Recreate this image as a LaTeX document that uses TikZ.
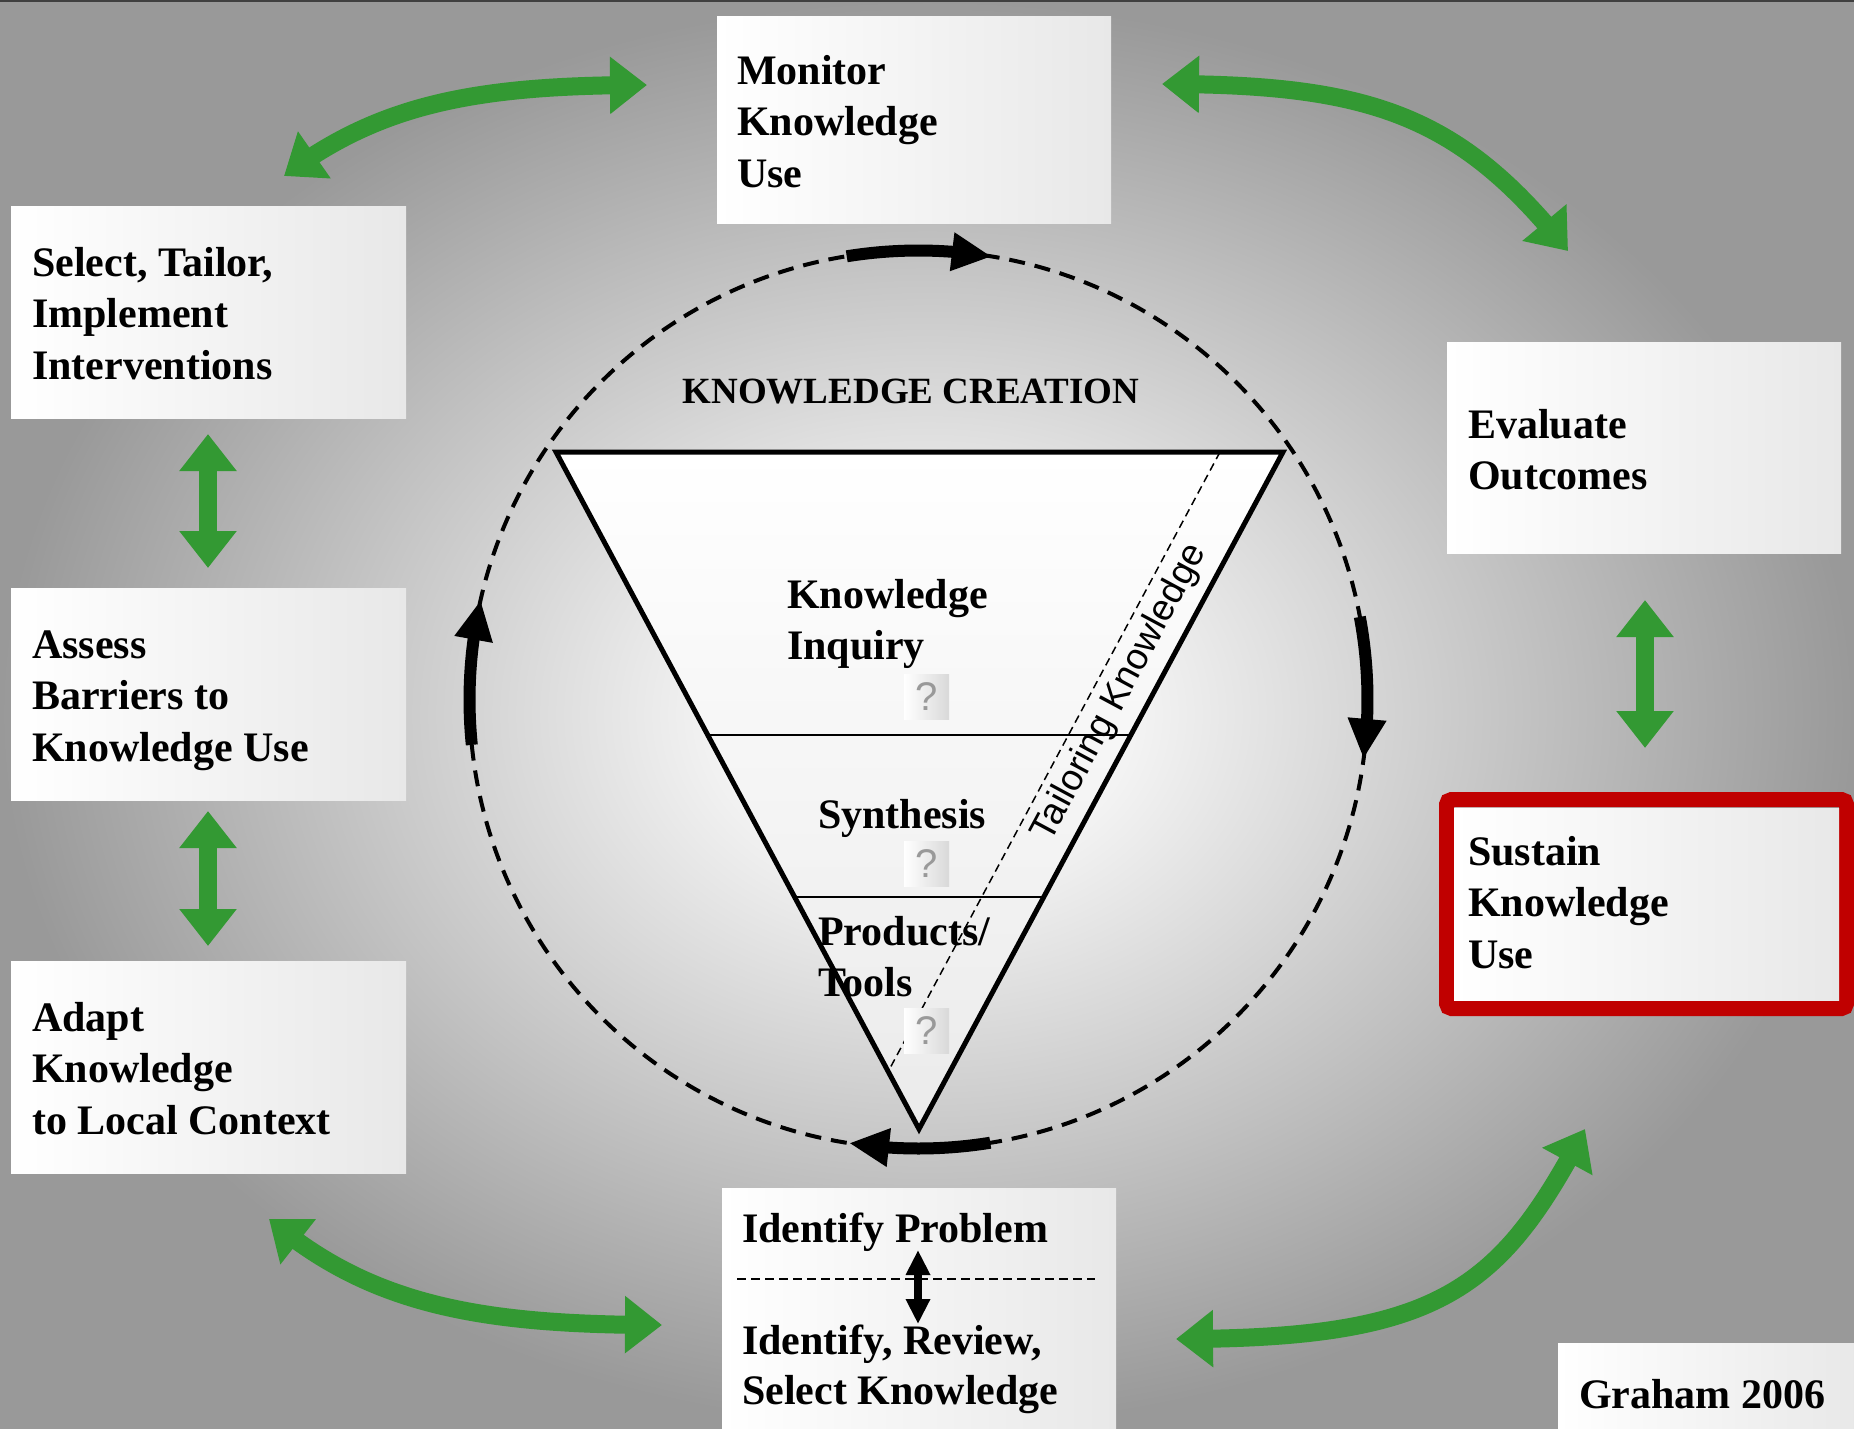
\documentclass[tikz,border=0pt]{standalone}
\usepackage{fontspec}
\setmainfont{Liberation Serif}
\newfontfamily\sansarial{Liberation Sans}
\usetikzlibrary{arrows.meta,bending,calc}
\definecolor{bgedge}{gray}{0.6}
\definecolor{kgreen}{RGB}{51,153,51}
\definecolor{kred}{RGB}{192,0,0}
\definecolor{boxright}{gray}{0.91}
\pgfdeclareradialshading{bgshade}{\pgfpoint{0bp}{0bp}}{color(0bp)=(white); color(3bp)=(white); color(25bp)=(bgedge); color(50bp)=(bgedge)}
\tikzset{
  box/.style={rectangle, inner sep=0pt, outer sep=0pt, anchor=north west, left color=white, right color=boxright, draw=none},
  bt/.style={anchor=north west, inner sep=0pt, align=left, font=\bfseries\fontsize{42}{51.5}\selectfont},
  qbox/.style={rectangle, minimum width=45pt, minimum height=45pt, inner sep=0pt, left color=white, right color=black!15, text=black!40, font=\sansarial\fontsize{40}{40}\selectfont},
  garrow/.style={draw=kgreen, line width=18pt, {Triangle[length=37pt,width=55pt]}-{Triangle[length=37pt,width=55pt]}},
  karrow/.style={draw=black, line width=12pt, -{Triangle[length=40pt,width=36pt]}},
  circdash/.style={draw=black, line width=4pt, dash pattern=on 16pt off 10pt},
}
\begin{document}
\begin{tikzpicture}[x=1pt,y=1pt]
\useasboundingbox (0,0) rectangle (1854,-1428);
\shade[shading=bgshade] (0,0) rectangle (1854,-1428);
\draw[black!75, line width=3pt] (0,0) -- (1854,0);

% boxes
\node[box, minimum width=394pt, minimum height=207pt] (monbox) at (717,-16) {};
\node[box, minimum width=395pt, minimum height=212pt] (selbox) at (11,-206) {};
\node[box, minimum width=395pt, minimum height=212pt] (assbox) at (11,-588) {};
\node[box, minimum width=395pt, minimum height=212pt] (adabox) at (11,-961) {};
\node[box, minimum width=394pt, minimum height=211pt] (evabox) at (1447,-342) {};
\draw[kred, line width=15pt, rounded corners=5pt] (1446.5,-799.5) rectangle (1846.5,-1008.5);
\node[box, minimum width=385pt, minimum height=192pt] (susbox) at (1454,-808) {};
\node[box, minimum width=394pt, minimum height=245pt] (idbox) at (722,-1188) {};
\node[box, minimum width=300pt, minimum height=90pt] (grabox) at (1558,-1343) {};

% box texts
\node[bt] (montx) at (737,-48) {\strut Monitor\\Knowledge\\Use};
\node[bt] (seltx) at (32,-240) {\strut Select, Tailor,\\Implement\\Interventions};
\node[bt] (asstx) at (32,-622) {\strut Assess\\Barriers to\\Knowledge Use};
\node[bt] (adatx) at (32,-995) {\strut Adapt\\Knowledge\\to Local Context};
\node[bt] (evatx) at (1468,-402) {\strut Evaluate\\Outcomes};
\node[bt] (sustx) at (1468,-829) {\strut Sustain\\Knowledge\\Use};
\node[bt] (idptx) at (742,-1206) {\strut Identify Problem};
\node[bt, font=\bfseries\fontsize{42}{50}\selectfont] (irstx) at (742,-1319) {\strut Identify, Review,\\Select Knowledge};
\node[bt] (gratx) at (1579,-1372) {\strut Graham 2006};

% dashed separator and black arrow in identify box
\coordinate (sepl) at (737,-1279);
\coordinate (sepr) at (1095,-1279);
\draw[line width=2pt, dash pattern=on 9pt off 5pt] (sepl) -- (sepr);
\coordinate (ida) at (918,-1250);
\coordinate (idb) at (918,-1324);
\draw[black, line width=8pt, {Triangle[length=25pt,width=23pt]}-{Triangle[length=25pt,width=23pt]}] (ida) -- (idb);

% circle
\coordinate (cc) at (918.5,-699.5);
\draw[circdash] (cc) circle[radius=449];

% triangle
\coordinate (tl) at (556,-452);
\coordinate (tr) at (1283,-452);
\coordinate (ap) at (919,-1129);
\path[top color=white, bottom color=black!8] (tl) -- (tr) -- (ap) -- cycle;
\draw[line width=2.5pt] ($(tl)!0.418!(ap)$) -- ($(tr)!0.418!(ap)$);
\draw[line width=2.5pt] ($(tl)!0.657!(ap)$) -- ($(tr)!0.657!(ap)$);
\coordinate (d1) at (1220,-452);
\coordinate (d2) at (889,-1070);
\draw[line width=1.5pt, dash pattern=on 8pt off 5pt] (d1) -- (d2);
\draw[line width=5pt] (tl) -- (tr) -- (ap) -- cycle;

\node[anchor=base, inner sep=0pt, font=\bfseries\fontsize{37}{40}\selectfont] (kc) at (911,-403) {KNOWLEDGE CREATION};
\node[bt] (kitx) at (787,-572) {\strut Knowledge\\Inquiry};
\node[bt] (syntx) at (818,-792) {\strut Synthesis};
\node[bt] (prtx) at (818,-909) {\strut Products/\\Tools};
\node[qbox] (q1) at (926.5,-696.5) {?};
\node[qbox] (q2) at (926.5,-863.5) {?};
\node[qbox] (q3) at (926.5,-1030.5) {?};
\node[rotate=61.8, inner sep=0pt, font=\sansarial\fontsize{37}{40}\selectfont] (tail) at (1120,-693) {Tailoring Knowledge};

% black cycle arrows
\draw[karrow] (cc) ++(99.2:449) arc[start angle=99.2, end angle=80.6, radius=449];
\draw[karrow] (cc) ++(10.6:449) arc[start angle=10.6, end angle=-7.6, radius=449];
\draw[karrow] (cc) ++(-80.8:449) arc[start angle=-80.8, end angle=-98.9, radius=449];
\draw[karrow] (cc) ++(185.8:449) arc[start angle=185.8, end angle=167.2, radius=449];

% green vertical arrows
\coordinate (g1a) at (208,-434); \coordinate (g1b) at (208,-568);
\coordinate (g2a) at (208,-811); \coordinate (g2b) at (208,-946);
\coordinate (g3a) at (1645,-600); \coordinate (g3b) at (1645,-748);
\draw[garrow] (g1a) -- (g1b);
\draw[garrow] (g2a) -- (g2b);
\draw[garrow] (g3a) -- (g3b);

% green curved arrows
\coordinate (c1a) at (647,-85); \coordinate (c1b) at (284,-176);
\coordinate (c2a) at (1162,-84); \coordinate (c2b) at (1568,-251);
\coordinate (c3a) at (662,-1325); \coordinate (c3b) at (269,-1219);
\coordinate (c4a) at (1176,-1339); \coordinate (c4b) at (1585,-1129);
\draw[garrow] (c1a) .. controls (477,-85) and (380,-103.5) .. (c1b);
\draw[garrow] (c2a) .. controls (1370,-84) and (1460,-115) .. (c2b);
\draw[garrow] (c3a) .. controls (480,-1325) and (370,-1305) .. (c3b);
\draw[garrow] (c4a) .. controls (1440,-1339) and (1500,-1290) .. (c4b);
\end{tikzpicture}
\end{document}
